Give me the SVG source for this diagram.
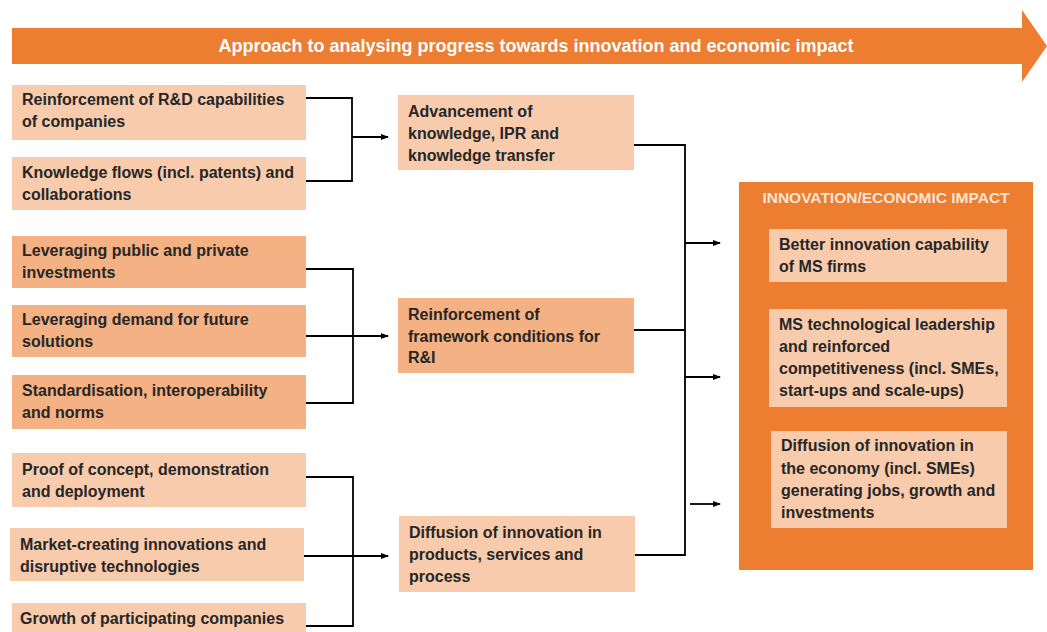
<svg xmlns="http://www.w3.org/2000/svg" width="1047" height="632" viewBox="0 0 1047 632">
<style>
.lt{fill:#F8CBAD}
.dk{fill:#F4B183}
.t{font-family:"Liberation Sans",Arial,sans-serif;font-weight:bold;font-size:16px;fill:#262626}
.w{font-family:"Liberation Sans",Arial,sans-serif;font-weight:bold;fill:#FFFFFF}
.c{fill:none;stroke:#000;stroke-width:1.8}
</style>
<defs>
<marker id="ah" markerWidth="8" markerHeight="8" refX="7" refY="4" orient="auto" markerUnits="userSpaceOnUse">
<path d="M0,1 L8,4 L0,7 Z" fill="#000"/>
</marker>
</defs>
<rect width="1047" height="632" fill="#FFFFFF"/>
<g id="banner">
<path d="M12,28 H1022 V10 L1047,46 L1022,82 V64 H12 Z" fill="#ED7D31"/>
<text class="w" x="536" y="52" font-size="18" text-anchor="middle">Approach to analysing progress towards innovation and economic impact</text>
</g>
<g id="n1"><rect class="lt" x="12" y="85" width="294" height="55"/><text class="t" x="22" y="105">Reinforcement of R&amp;D capabilities</text><text class="t" x="22" y="127">of companies</text></g>
<g id="n2"><rect class="lt" x="12" y="157" width="294" height="53"/><text class="t" x="22" y="178">Knowledge flows (incl. patents) and</text><text class="t" x="22" y="200">collaborations</text></g>
<g id="n3"><rect class="dk" x="12" y="236" width="294" height="52"/><text class="t" x="22" y="256">Leveraging public and private</text><text class="t" x="22" y="278">investments</text></g>
<g id="n4"><rect class="dk" x="12" y="305" width="294" height="52"/><text class="t" x="22" y="325">Leveraging demand for future</text><text class="t" x="22" y="347">solutions</text></g>
<g id="n5"><rect class="dk" x="12" y="375" width="294" height="54"/><text class="t" x="22" y="396">Standardisation, interoperability</text><text class="t" x="22" y="418">and norms</text></g>
<g id="n6"><rect class="lt" x="12" y="453" width="294" height="54"/><text class="t" x="22" y="475">Proof of concept, demonstration</text><text class="t" x="22" y="497">and deployment</text></g>
<g id="n7"><rect class="lt" x="10" y="528" width="294" height="53"/><text class="t" x="20" y="550">Market-creating innovations and</text><text class="t" x="20" y="572">disruptive technologies</text></g>
<g id="n8"><rect class="lt" x="12" y="603" width="294" height="32"/><text class="t" x="20" y="624">Growth of participating companies</text></g>
<g id="m1"><rect class="lt" x="398" y="95" width="236" height="75"/><text class="t" x="408" y="117">Advancement of</text><text class="t" x="408" y="139">knowledge, IPR and</text><text class="t" x="408" y="161">knowledge transfer</text></g>
<g id="m2"><rect class="dk" x="398" y="298" width="236" height="75"/><text class="t" x="408" y="320">Reinforcement of</text><text class="t" x="408" y="342">framework conditions for</text><text class="t" x="408" y="363">R&amp;I</text></g>
<g id="m3"><rect class="lt" x="399" y="516" width="236" height="76"/><text class="t" x="409" y="538">Diffusion of innovation in</text><text class="t" x="409" y="560">products, services and</text><text class="t" x="409" y="582">process</text></g>
<g id="impact">
<rect x="739" y="182" width="294" height="388" fill="#ED7D31"/>
<text class="w" x="886" y="203" font-size="15.5" text-anchor="middle" style="fill:#FBE5D6">INNOVATION/ECONOMIC IMPACT</text>
</g>
<g id="r1"><rect class="lt" x="769" y="229" width="238" height="53"/><text class="t" x="779" y="250">Better innovation capability</text><text class="t" x="779" y="272">of MS firms</text></g>
<g id="r2"><rect class="lt" x="769" y="309" width="238" height="98"/><text class="t" x="779" y="330">MS technological leadership</text><text class="t" x="779" y="352">and reinforced</text><text class="t" x="779" y="374">competitiveness (incl. SMEs,</text><text class="t" x="779" y="396">start-ups and scale-ups)</text></g>
<g id="r3"><rect class="lt" x="771" y="431" width="236" height="97"/><text class="t" x="781" y="451">Diffusion of innovation in</text><text class="t" x="781" y="474">the economy (incl. SMEs)</text><text class="t" x="781" y="496">generating jobs, growth and</text><text class="t" x="781" y="518">investments</text></g>
<g id="connectors">
<path class="c" d="M306,98 H352 V181 H306"/>
<path class="c" d="M352,137 H388" marker-end="url(#ah)"/>
<path class="c" d="M306,269 H353 V403 H306"/>
<path class="c" d="M306,336 H388" marker-end="url(#ah)"/>
<path class="c" d="M306,477 H353 V626 H306"/>
<path class="c" d="M304,556 H388" marker-end="url(#ah)"/>
<path class="c" d="M634,145 H685 V555 H635"/>
<path class="c" d="M634,330 H685"/>
<path class="c" d="M685,243 H720" marker-end="url(#ah)"/>
<path class="c" d="M685,377 H720" marker-end="url(#ah)"/>
<path class="c" d="M690,504 H720" marker-end="url(#ah)"/>
</g>
</svg>
